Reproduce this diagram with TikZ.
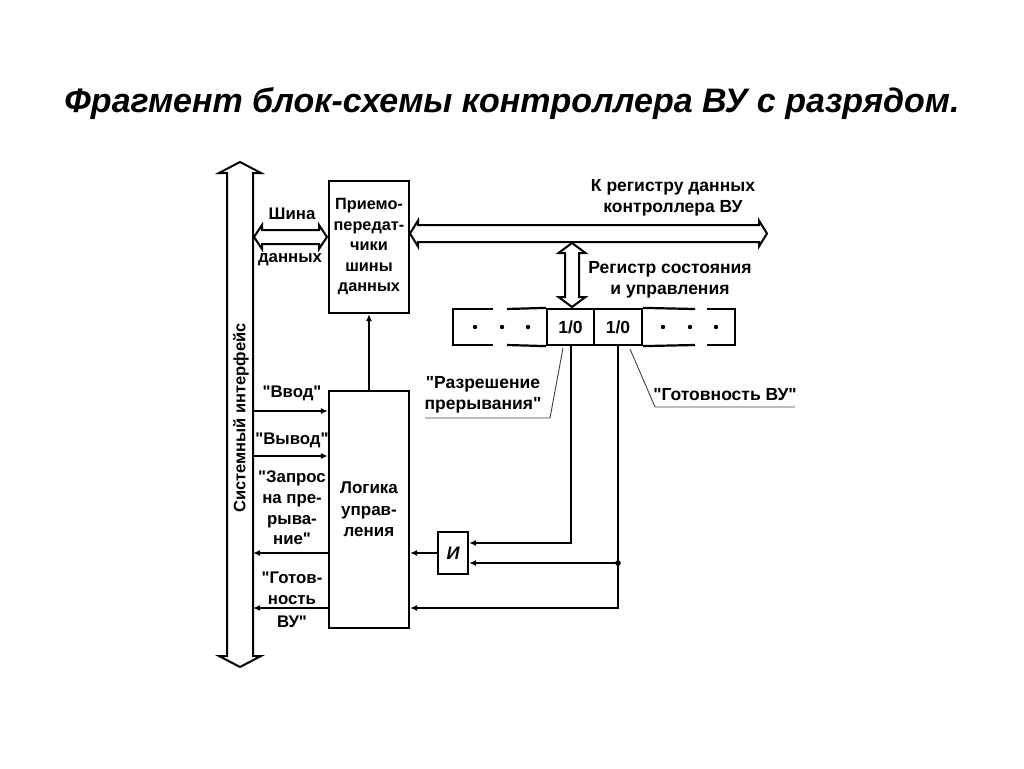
\documentclass[tikz,border=0pt]{standalone}
\usepackage{fontspec}
\setmainfont{Liberation Sans}[Ligatures=TeXOff]
\usetikzlibrary{arrows.meta,calc}
\newcommand\hbus[6]{% x1 x2 yc h H L
  \draw[bus] (#1,#3) -- ({#1+#6},{#3-#5}) -- ({#1+#6},{#3-#4}) -- ({#2-#6},{#3-#4}) -- ({#2-#6},{#3-#5}) -- (#2,#3)
    -- ({#2-#6},{#3+#5}) -- ({#2-#6},{#3+#4}) -- ({#1+#6},{#3+#4}) -- ({#1+#6},{#3+#5}) -- cycle;}
\newcommand\vbus[6]{% xc y1 y2 h H L
  \draw[bus] (#1,#2) -- ({#1+#5},{#2+#6}) -- ({#1+#4},{#2+#6}) -- ({#1+#4},{#3-#6}) -- ({#1+#5},{#3-#6}) -- (#1,#3)
    -- ({#1-#5},{#3-#6}) -- ({#1-#4},{#3-#6}) -- ({#1-#4},{#2+#6}) -- ({#1-#5},{#2+#6}) -- cycle;}
\tikzset{
  lbl/.style={font=\bfseries\fontsize{17.5}{20.7}\selectfont, align=center, inner sep=0pt},
  sidelbl/.style={font=\bfseries\fontsize{16.8}{20.7}\selectfont, align=center, inner sep=0pt},
  boxnode/.style={draw, line width=2.2pt, inner sep=0pt, font=\bfseries\fontsize{16.3}{20.5}\selectfont, align=center},
  wire/.style={line width=2pt},
  arr/.style={wire, -{Latex[length=7pt,width=6pt]}},
  lead/.style={line width=0.9pt, draw=black!75},
  bus/.style={line width=2pt, line join=miter},
  regline/.style={line width=2.2pt},
}
\begin{document}
\begin{tikzpicture}[x=1pt,y=-1pt]
\useasboundingbox (0,0) rectangle (1024,768);
\node[font=\bfseries\itshape\fontsize{34}{40}\selectfont, inner sep=0pt] (title) at (512,104) {Фрагмент блок-схемы контроллера ВУ с разрядом.};

% system interface bus
\vbus{240}{162}{667}{13}{21}{11}
\node[lbl, rotate=90, font=\bfseries\fontsize{16.5}{18}\selectfont] (sysl) at (241,418) {Системный интерфейс};

% boxes
\node[boxnode, minimum width=80, minimum height=132] (trx) at (369,247) {Приемо-\\передат-\\чики\\шины\\данных};
\node[boxnode, minimum width=80, minimum height=237, font=\bfseries\fontsize{17}{21.5}\selectfont] (logic) at (369,509.5) {Логика\\управ-\\ления};
\node[boxnode, minimum width=30, minimum height=42, font=\bfseries\itshape\fontsize{18}{20}\selectfont] (andg) at (453,553) {И};
\node[boxnode, minimum width=47, minimum height=36, font=\bfseries\fontsize{17.5}{20}\selectfont] (cell1) at (570.5,327) {1/0};
\node[boxnode, minimum width=48, minimum height=36, font=\bfseries\fontsize{17.5}{20}\selectfont] (cell2) at (618,327) {1/0};

% register outer parts
\draw[regline] (cell1.north west) -- (507,309);
\draw[regline] (493,309) -- (453,309) -- (453,345) -- (493,345);
\draw[regline] (507,345) -- (cell1.south west);
\draw[regline] (cell2.north east) -- (695,309);
\draw[regline] (707,309) -- (735,309) -- (735,345) -- (707,345);
\draw[regline] (695,345) -- (cell2.south east);
\foreach \x in {475,502,528,663,690,716} \fill (\x,327) circle (2.2);

% buses
\hbus{254}{327}{237}{7}{12}{8}
\hbus{410}{767}{233.5}{8.5}{13}{8}
\vbus{572}{243}{307}{7}{13.5}{10}

% labels
\node[sidelbl] (tshina) at (292,214) {Шина};
\node[sidelbl] (tdann) at (290,260) {данных};
\node[lbl] (treg) at (673,197.5) {К регистру данных\\контроллера ВУ};
\node[lbl] (tsost) at (670,280) {Регистр состояния\\и управления};
\node[lbl] (tperm) at (483,395) {"Разрешение\\прерывания"};
\node[lbl] (tgot) at (725,395) {"Готовность ВУ"};
\node[sidelbl] (tvvod) at (292,393) {"Ввод"};
\node[sidelbl] (tvyvod) at (292,440) {"Вывод"};
\node[sidelbl] (tzapr) at (292,508) {"Запрос\\на пре-\\рыва-\\ние"};
\node[sidelbl] (tgotov) at (292,588.5) {"Готов-\\ность};
\node[sidelbl] (tvu) at (292,622) {ВУ"};

% wires
\coordinate (bIn) at (253,411);
\coordinate (bOut) at (253,456);
\coordinate (bReq) at (253,553);
\coordinate (bRdy) at (253,608);
\coordinate (y543) at (0,543);
\coordinate (y563) at (0,563);
\coordinate (y608) at (0,608);
\draw[arr] (bIn) -- (logic.west |- bIn);
\draw[arr] (bOut) -- (logic.west |- bOut);
\draw[arr] (logic.west |- bReq) -- (bReq);
\draw[arr] (logic.west |- bRdy) -- (bRdy);
\draw[arr] (logic.north) -- (trx.south);
\draw[arr] (andg.west) -- (logic.east |- andg.west);
\draw[arr] (cell1.south) |- (andg.east |- y543);
\coordinate (jn) at (cell2.south |- y563);
\draw[arr] (jn) -- (andg.east |- jn);
\fill (jn) circle (2.8);
\draw[arr] (cell2.south) |- (logic.east |- y608);

% leader lines
\coordinate (rl1) at (425,418);
\coordinate (rl2) at (550,418);
\coordinate (rl3) at (563,348);
\coordinate (gl1) at (630,349);
\coordinate (gl2) at (655,407);
\coordinate (gl3) at (795,407);
\draw[lead] (rl1) -- (rl2) -- (rl3);
\draw[lead] (gl1) -- (gl2) -- (gl3);
\end{tikzpicture}
\end{document}
